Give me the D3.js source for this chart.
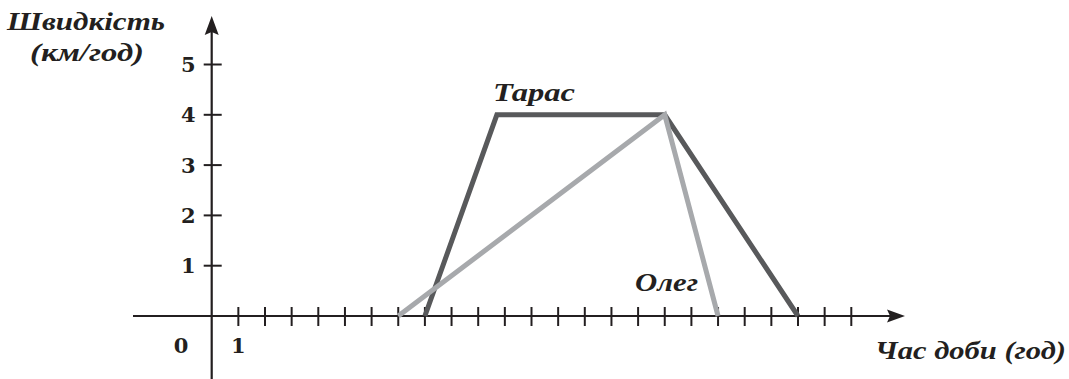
<!DOCTYPE html>
<html>
<head>
<meta charset="utf-8">
<script src="https://cdn.jsdelivr.net/npm/d3@7"></script>
<style>
  body { margin: 0; background: #fff; }
  svg { display: block; }
  .lbl { font-family: "DejaVu Serif", serif; font-weight: bold; fill: #231f20; }
  .it { font-family: "Liberation Serif", serif; font-style: italic; font-weight: bold; }
</style>
</head>
<body>
<div id="graphicContainer"></div>
<script>
// hours of the day, ticks on the time axis
var xTicks = [1, 2, 3, 4, 5, 6, 7, 8, 9, 10, 11, 12, 13, 14, 15, 16, 17, 18, 19, 20, 21, 22, 23, 24]
var yTicks = [1, 2, 3, 4, 5]

// Taras
var tarasTime = [8, 10.7, 17, 22]
var tarasSpeed = [0, 4, 4, 0]

// Oleg
var olegTime = [7, 17, 19]
var olegSpeed = [0, 4, 0]

var width = 1069
var height = 379
var ink = "#231f20"

var svg = d3.select("#graphicContainer").append("svg")
  .attr("width", width)
  .attr("height", height)

var x = d3.scaleLinear().domain([0, 24]).range([211.7, 851.3])
var y = d3.scaleLinear().domain([0, 5]).range([316, 64.5])

var axes = svg.append("g")

// x axis line with arrow
axes.append("line")
  .attr("x1", 133).attr("x2", 892)
  .attr("y1", y(0)).attr("y2", y(0))
  .attr("stroke", ink).attr("stroke-width", 2.2)
axes.append("path")
  .attr("d", "M905," + y(0) + "L887," + (y(0) - 6.5) + "L890," + y(0) + "L887," + (y(0) + 6.5) + "Z")
  .attr("fill", ink)

// y axis line with arrow
axes.append("line")
  .attr("x1", x(0)).attr("x2", x(0))
  .attr("y1", 379).attr("y2", 30)
  .attr("stroke", ink).attr("stroke-width", 2.2)
axes.append("path")
  .attr("d", "M" + x(0) + ",16L" + (x(0) - 7) + ",35L" + x(0) + ",32L" + (x(0) + 7) + ",35Z")
  .attr("fill", ink)

// x ticks
axes.selectAll(".xtick")
  .data(xTicks)
  .enter().append("line")
  .attr("class", "xtick")
  .attr("x1", function (d) { return x(d) })
  .attr("x2", function (d) { return x(d) })
  .attr("y1", y(0) - 9)
  .attr("y2", y(0) + 10)
  .attr("stroke", ink).attr("stroke-width", 2)

// y ticks
axes.selectAll(".ytick")
  .data(yTicks)
  .enter().append("line")
  .attr("class", "ytick")
  .attr("x1", x(0) - 8)
  .attr("x2", x(0) + 10)
  .attr("y1", function (d) { return y(d) })
  .attr("y2", function (d) { return y(d) })
  .attr("stroke", ink).attr("stroke-width", 2)

axes.selectAll(".ylabel")
  .data(yTicks)
  .enter().append("text")
  .attr("class", "lbl")
  .attr("x", x(0) - 16)
  .attr("y", function (d) { return y(d) + 7.5 })
  .attr("text-anchor", "end")
  .style("font-size", "21px")
  .text(function (d) { return d })

axes.append("text").attr("class", "lbl")
  .attr("x", 181).attr("y", 353)
  .attr("text-anchor", "middle")
  .style("font-size", "21px")
  .text("0")

axes.append("text").attr("class", "lbl")
  .attr("x", x(xTicks[0])).attr("y", 353)
  .attr("text-anchor", "middle")
  .style("font-size", "21px")
  .text(xTicks[0])

var line = d3.line()
  .x(function (d) { return x(d[0]) })
  .y(function (d) { return y(d[1]) })

svg.append("path")
  .datum(d3.zip(tarasTime, tarasSpeed))
  .attr("d", line)
  .attr("fill", "none")
  .attr("stroke", "#58595b")
  .attr("stroke-width", 5)
  .attr("stroke-linejoin", "miter")

svg.append("path")
  .datum(d3.zip(olegTime, olegSpeed))
  .attr("d", line)
  .attr("fill", "none")
  .attr("stroke", "#a7a9ac")
  .attr("stroke-width", 5)
  .attr("stroke-linejoin", "miter")

// labels
function label(txt, px, py, len) {
  svg.append("text").attr("class", "lbl it")
    .attr("x", px).attr("y", py)
    .attr("textLength", len)
    .attr("lengthAdjust", "spacingAndGlyphs")
    .style("font-size", "26px")
    .text(txt)
}

label("Швидкість", 7, 30, 158)
label("(км/год)", 30, 61, 114)
label("Тарас", 493, 101, 82)
label("Олег", 635, 291, 63)
label("Час доби (год)", 875, 359, 191)
</script>
</body>
</html>
